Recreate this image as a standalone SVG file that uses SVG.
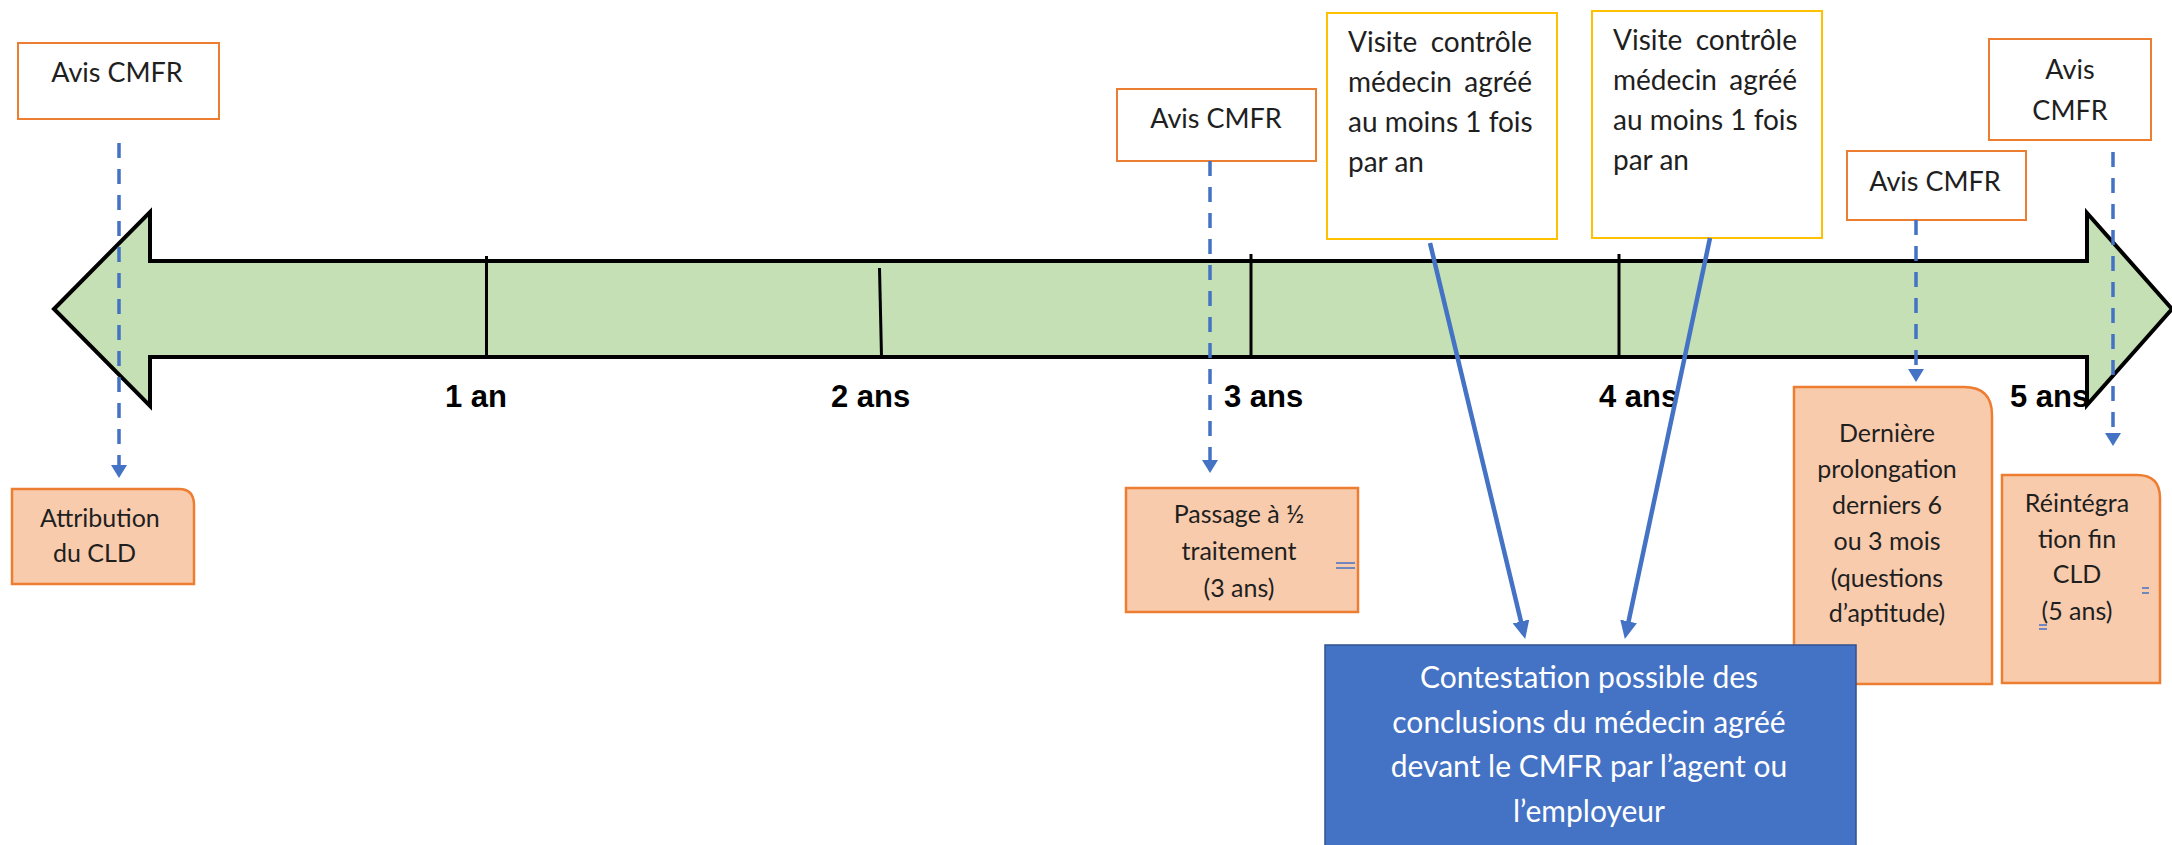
<svg xmlns="http://www.w3.org/2000/svg" width="2172" height="845" viewBox="0 0 2172 845">
<style>
.t{font-family:Lato,"Open Sans","Liberation Sans",sans-serif;fill:#1f1f1f}
.c{text-anchor:middle}
.e{text-anchor:end}
.yr{font-family:"Liberation Sans",Arial,sans-serif;font-weight:bold;font-size:31px;fill:#000}
.avis{fill:#fff;stroke:#ED7D31;stroke-width:2}
.visite{fill:#fff;stroke:#FFC000;stroke-width:2}
.note{fill:#F8CBAD;stroke:#ED7D31;stroke-width:2.5}
.dash{stroke:#4472C4;stroke-width:3.5;stroke-dasharray:15 11;fill:none}
.solid{stroke:#4472C4;stroke-width:4.5;fill:none}
.tick{stroke:#000;stroke-width:3}
.mk{stroke:#4472C4;stroke-width:1.5}
</style>
<defs>
<marker id="ad" markerUnits="userSpaceOnUse" markerWidth="14" markerHeight="16" refX="4" refY="8" orient="auto"><path d="M0,0 L13,8 L0,16 z" fill="#4472C4"/></marker>
<marker id="as" markerUnits="userSpaceOnUse" markerWidth="18" markerHeight="17" refX="9" refY="8.5" orient="auto"><path d="M0,0 L18,8.5 L0,17 z" fill="#4472C4"/></marker>
</defs>
<rect width="2172" height="845" fill="#fff"/>
<g id="timeline">
<path d="M54,309 L150,212 L150,261 L2087,261 L2087,213 L2172,309 L2087,405 L2087,357 L150,357 L150,406 Z" fill="#C5E0B4" stroke="#000" stroke-width="4" stroke-linejoin="miter"/>
<line class="tick" x1="486.5" y1="256" x2="486.5" y2="357"/>
<line class="tick" x1="879.5" y1="268" x2="881.5" y2="357"/>
<line class="tick" x1="1251" y1="254" x2="1251" y2="357"/>
<line class="tick" x1="1619" y1="254" x2="1619" y2="357"/>
<text class="yr" x="445" y="407">1 an</text>
<text class="yr" x="831" y="407">2 ans</text>
<text class="yr" x="1224" y="407">3 ans</text>
<text class="yr" x="1599" y="407">4 ans</text>
<text class="yr" x="2010" y="407">5 ans</text>
</g>
<g id="avis1"><rect class="avis" x="18" y="43" width="201" height="76"/><text class="t c" x="117" y="82" font-size="27">Avis CMFR</text></g>
<g id="avis2"><rect class="avis" x="1117" y="89" width="199" height="72"/><text class="t c" x="1216" y="128" font-size="27">Avis CMFR</text></g>
<g id="avis3"><rect class="avis" x="1847" y="151" width="179" height="69"/><text class="t c" x="1935" y="191" font-size="27">Avis CMFR</text></g>
<g id="avis4"><rect class="avis" x="1989" y="39" width="162" height="101"/><text class="t c" x="2070" y="79" font-size="27">Avis</text><text class="t c" x="2070" y="120" font-size="27">CMFR</text></g>
<g id="visite1"><rect class="visite" x="1327" y="13" width="230" height="226"/>
<text class="t" x="1348" y="52" font-size="28">Visite</text><text class="t e" x="1532" y="52" font-size="28">contrôle</text>
<text class="t" x="1348" y="92" font-size="28">médecin</text><text class="t e" x="1532" y="92" font-size="28">agréé</text>
<text class="t" x="1348" y="132" font-size="28">au moins 1 fois</text>
<text class="t" x="1348" y="172" font-size="28">par an</text></g>
<g id="visite2"><rect class="visite" x="1592" y="11" width="230" height="227"/>
<text class="t" x="1613" y="50" font-size="28">Visite</text><text class="t e" x="1797" y="50" font-size="28">contrôle</text>
<text class="t" x="1613" y="90" font-size="28">médecin</text><text class="t e" x="1797" y="90" font-size="28">agréé</text>
<text class="t" x="1613" y="130" font-size="28">au moins 1 fois</text>
<text class="t" x="1613" y="170" font-size="28">par an</text></g>
<g id="attribution"><path class="note" d="M12,489 L179,489 Q194,489 194,505 L194,584 L12,584 Z"/>
<text class="t" x="40" y="527" font-size="25">Attribution</text><text class="t" x="53" y="562" font-size="25">du CLD</text></g>
<g id="passage"><rect class="note" x="1126" y="488" width="232" height="124"/>
<text class="t c" x="1239" y="523" font-size="25">Passage à ½</text><text class="t c" x="1239" y="560" font-size="25">traitement</text><text class="t c" x="1239" y="597" font-size="25">(3 ans)</text>
<line class="mk" x1="1336" y1="563" x2="1355" y2="563"/><line class="mk" x1="1336" y1="568" x2="1355" y2="568"/></g>
<g id="derniere"><path class="note" d="M1794,387 L1964,387 Q1992,387 1992,415 L1992,684 L1794,684 Z"/>
<text class="t c" x="1887" y="442" font-size="25">Dernière</text><text class="t c" x="1887" y="478" font-size="25">prolongation</text><text class="t c" x="1887" y="514" font-size="25">derniers 6</text><text class="t c" x="1887" y="550" font-size="25">ou 3 mois</text><text class="t c" x="1887" y="587" font-size="25">(questions</text><text class="t c" x="1887" y="622" font-size="25">d’aptitude)</text></g>
<g id="reintegration"><path class="note" d="M2002,475 L2137,475 Q2160,475 2160,498 L2160,683 L2002,683 Z"/>
<text class="t c" x="2077" y="512" font-size="25">Réintégra</text><text class="t c" x="2077" y="548" font-size="25">tion fin</text><text class="t c" x="2077" y="583" font-size="25">CLD</text><text class="t c" x="2077" y="620" font-size="25">(5 ans)</text>
<line class="mk" x1="2142" y1="588" x2="2149" y2="588"/><line class="mk" x1="2142" y1="593" x2="2149" y2="593"/>
<line class="mk" x1="2039" y1="625" x2="2047" y2="625"/><line class="mk" x1="2039" y1="629" x2="2047" y2="629"/></g>
<g id="contestation"><rect x="1325" y="645" width="531" height="210" fill="#4472C4" stroke="#2F528F" stroke-width="1.5"/>
<text class="t c" x="1589" y="688" font-size="30" style="fill:#fff">Contestation possible des</text>
<text class="t c" x="1589" y="733" font-size="30" style="fill:#fff">conclusions du médecin agréé</text>
<text class="t c" x="1589" y="777" font-size="30" style="fill:#fff">devant le CMFR par l’agent ou</text>
<text class="t c" x="1589" y="822" font-size="30" style="fill:#fff">l’employeur</text></g>
<g id="connectors">
<line class="dash" x1="119" y1="143" x2="119" y2="469" marker-end="url(#ad)"/>
<line class="dash" x1="1210" y1="161" x2="1210" y2="464" marker-end="url(#ad)"/>
<line class="dash" x1="1916" y1="220" x2="1916" y2="373" marker-end="url(#ad)"/>
<line class="dash" x1="2113" y1="152" x2="2113" y2="437" marker-end="url(#ad)"/>
<line class="solid" x1="1430" y1="243" x2="1523.1" y2="630.2" marker-end="url(#as)"/>
<line class="solid" x1="1710" y1="238" x2="1626.7" y2="630.2" marker-end="url(#as)"/>
</g>
</svg>
